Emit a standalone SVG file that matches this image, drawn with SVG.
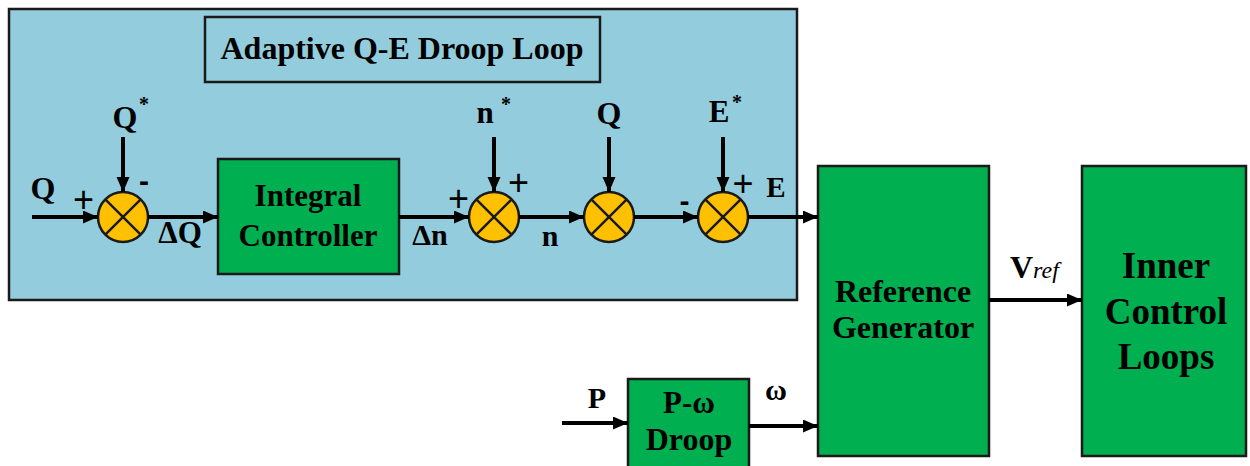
<svg xmlns="http://www.w3.org/2000/svg" width="1250" height="466" viewBox="0 0 1250 466">
<style>
.t{font-family:"Liberation Serif","Times New Roman",serif;font-weight:bold;fill:#000}
.p{font-family:"Liberation Sans",Arial,sans-serif;font-size:36px;fill:#000;text-anchor:middle}
.m{font-family:"Liberation Sans",Arial,sans-serif;font-weight:bold;font-size:30px;fill:#000;text-anchor:middle}
.box{fill:#00B050;stroke:#1a1a1a;stroke-width:2.5}
.sum{fill:#FFC000;stroke:#1a1a1a;stroke-width:2.5}
.x{stroke:#1a1a1a;stroke-width:2.5}
.w{stroke:#000;stroke-width:4;fill:none;marker-end:url(#ah)}
</style>
<defs>
<marker id="ah" markerUnits="userSpaceOnUse" markerWidth="16" markerHeight="14" refX="15" refY="6.5" orient="auto">
<path d="M0,0 L15,6.5 L0,13 z" fill="#000"/>
</marker>
</defs>
<rect width="1250" height="466" fill="#fff"/>
<g id="panel">
<rect x="9" y="9" width="788" height="291" fill="#93CDDD" stroke="#1a1a1a" stroke-width="2.5"/>
</g>
<g id="title">
<rect x="205" y="17" width="395" height="65" fill="#93CDDD" stroke="#1a1a1a" stroke-width="2.5"/>
<text class="t" x="402" y="59" font-size="32" text-anchor="middle">Adaptive Q-E Droop Loop</text>
</g>
<g id="sum1">
<circle class="sum" cx="123" cy="217" r="25"/>
<path class="x" d="M105.3,199.3 L140.7,234.7 M140.7,199.3 L105.3,234.7"/>
</g>
<g id="integral">
<rect class="box" x="218" y="159" width="181" height="115"/>
<text class="t" x="308" y="206" font-size="31" text-anchor="middle">Integral</text>
<text class="t" x="308" y="246" font-size="31" text-anchor="middle">Controller</text>
</g>
<g id="sum2">
<circle class="sum" cx="494" cy="217" r="25"/>
<path class="x" d="M476.3,199.3 L511.7,234.7 M511.7,199.3 L476.3,234.7"/>
</g>
<g id="sum3">
<circle class="sum" cx="609" cy="217" r="25"/>
<path class="x" d="M591.3,199.3 L626.7,234.7 M626.7,199.3 L591.3,234.7"/>
</g>
<g id="sum4">
<circle class="sum" cx="723" cy="217" r="25"/>
<path class="x" d="M705.3,199.3 L740.7,234.7 M740.7,199.3 L705.3,234.7"/>
</g>
<g id="refgen">
<rect class="box" x="818" y="166" width="171" height="290"/>
<text class="t" x="903" y="302" font-size="32" text-anchor="middle">Reference</text>
<text class="t" x="903" y="338" font-size="32" text-anchor="middle">Generator</text>
</g>
<g id="inner">
<rect class="box" x="1082" y="166" width="164" height="290"/>
<text class="t" x="1166" y="278" font-size="37" text-anchor="middle">Inner</text>
<text class="t" x="1166" y="324" font-size="37" text-anchor="middle">Control</text>
<text class="t" x="1166" y="369" font-size="37" text-anchor="middle">Loops</text>
</g>
<g id="pdroop">
<rect class="box" x="628" y="379" width="121" height="95"/>
<text class="t" x="689" y="413" font-size="31" text-anchor="middle">P-ω</text>
<text class="t" x="689" y="450" font-size="32" text-anchor="middle">Droop</text>
</g>
<g id="connectors">
<line class="w" x1="32" y1="217" x2="98" y2="217"/>
<line class="w" x1="123" y1="137" x2="123" y2="192"/>
<line class="w" x1="148" y1="217" x2="218" y2="217"/>
<line class="w" x1="399" y1="217" x2="469" y2="217"/>
<line class="w" x1="494" y1="137" x2="494" y2="192"/>
<line class="w" x1="519" y1="217" x2="584" y2="217"/>
<line class="w" x1="609" y1="137" x2="609" y2="192"/>
<line class="w" x1="634" y1="217" x2="698" y2="217"/>
<line class="w" x1="723" y1="137" x2="723" y2="192"/>
<line class="w" x1="748" y1="217" x2="818" y2="217"/>
<line class="w" x1="989" y1="300" x2="1082" y2="300"/>
<line class="w" x1="562" y1="423" x2="628" y2="423"/>
<line class="w" x1="749" y1="426" x2="818" y2="426"/>
</g>
<g id="labels">
<text class="t" x="43" y="199" font-size="32" text-anchor="middle">Q</text>
<text class="p" x="83.5" y="212">+</text>
<text class="t" x="125" y="128" font-size="32" text-anchor="middle">Q</text>
<text class="t" x="144" y="111" font-size="20" text-anchor="middle">*</text>
<text class="m" x="144" y="191">-</text>
<text class="t" x="180" y="243" font-size="31" text-anchor="middle">ΔQ</text>
<text class="t" x="430" y="245" font-size="30" text-anchor="middle">Δn</text>
<text class="p" x="458.5" y="211">+</text>
<text class="t" x="485" y="123" font-size="31" text-anchor="middle">n</text>
<text class="t" x="506" y="111" font-size="20" text-anchor="middle">*</text>
<text class="p" x="518.5" y="195">+</text>
<text class="t" x="550" y="246" font-size="30" text-anchor="middle">n</text>
<text class="t" x="609" y="124" font-size="32" text-anchor="middle">Q</text>
<text class="m" x="684.5" y="211">-</text>
<text class="t" x="719" y="122" font-size="31" text-anchor="middle">E</text>
<text class="t" x="737" y="109" font-size="20" text-anchor="middle">*</text>
<text class="p" x="743" y="196">+</text>
<text class="t" x="776" y="197" font-size="29" text-anchor="middle">E</text>
<text x="1010" y="278" font-family="Liberation Serif, serif" font-size="32"><tspan font-weight="bold">V</tspan><tspan font-style="italic" font-size="24">ref</tspan></text>
<text class="t" x="597" y="408" font-size="30" text-anchor="middle">P</text>
<text class="t" x="776" y="400" font-size="30" text-anchor="middle">ω</text>
</g>
</svg>
